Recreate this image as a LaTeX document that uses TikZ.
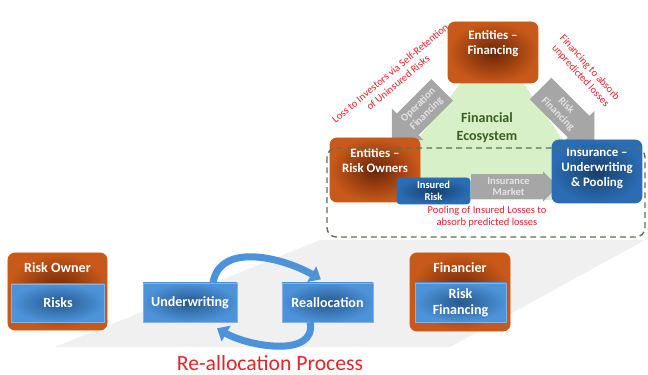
\documentclass[tikz,border=0pt]{standalone}
\usepackage{fontspec}
\setmainfont{Carlito}
\usetikzlibrary{positioning,shapes.arrows,arrows.meta}

\definecolor{rustorange}{HTML}{C9591A}
\definecolor{rustdark}{HTML}{6A2506}
\definecolor{boxblue}{HTML}{4C93DA}
\definecolor{deepblue}{HTML}{2A6DB5}
\definecolor{bluedark}{HTML}{173F6A}
\definecolor{arrowgray}{HTML}{A6A6A6}
\definecolor{arrowtext}{HTML}{E4E4E4}
\definecolor{ecogreen}{HTML}{D8F0C8}
\definecolor{ecotext}{HTML}{3A5F22}
\definecolor{dashgreen}{HTML}{5E7050}
\definecolor{notered}{HTML}{E0252B}
\definecolor{floorgray}{HTML}{F0F0F0}

\tikzset{
  orgbox/.style={rounded corners=6pt, draw=rustorange, line width=0.8pt,
    inner color=rustdark, outer color=rustorange, inner sep=0pt},
  bigblue/.style={rounded corners=6pt, draw=deepblue, line width=0.8pt,
    inner color=bluedark, outer color=deepblue, inner sep=0pt},
  flatblue/.style={draw=boxblue!70!white, line width=0.5pt,
    inner color=bluedark!70!boxblue, outer color=boxblue, inner sep=0pt,
    text=white, align=center, font=\fontsize{12}{13.6}\selectfont\bfseries},
  boxtxt/.style={text=white, align=center, font=\fontsize{11}{12.5}\selectfont\bfseries},
  ttl/.style={text=white, font=\fontsize{12}{13}\selectfont\bfseries},
  flowarrow/.style={single arrow, fill=arrowgray, text=arrowtext, align=center,
    font=\fontsize{9}{10}\selectfont\bfseries, inner xsep=1.5pt, inner ysep=3.7pt,
    single arrow head extend=0.2cm, minimum width=1.33cm},
  redlbl/.style={text=notered, align=center, font=\fontsize{9}{10.5}\selectfont},
  dashframe/.style={draw=dashgreen, line width=1.2pt, dash pattern=on 5pt off 3.5pt,
    rounded corners=8pt},
  cycarrow/.style={draw=boxblue, line width=6pt,
    -{Triangle[width=15pt,length=9pt]}}
}

\begin{document}
\begin{tikzpicture}[x=0.03cm, y=-0.03cm]
  \useasboundingbox (0,0) rectangle (648,375);

  % floor and ecosystem
  \fill[floorgray] (55,347) -- (320,240) -- (645,240) -- (450,347) -- cycle;
  \fill[ecogreen] (493,40) -- (372,200) -- (605,200) -- cycle;

  % money flows
  \node[flowarrow, rotate=45, shape border rotate=180, minimum height=2.13cm] (opf) at (422.5,109.5) {Operation\\Financing};
  \node[flowarrow, rotate=-45, minimum height=2.28cm] (rkf) at (562,110) {Risk\\Financing};
  \node[flowarrow, minimum height=2.61cm, minimum width=0.9cm, inner ysep=1.5pt,
    single arrow head extend=0.075cm] (mkt) at (508.5,186.5) {Insurance\\Market};

  % entities
  \node[orgbox, minimum width=2.7cm, minimum height=1.83cm] (fin) at (493,52.5) {};
  \node[boxtxt] (fintxt) at ([yshift=0.27cm]fin.center) {Entities --\\Financing};
  \node[orgbox, minimum width=2.7cm, minimum height=1.92cm] (own) at (375,170) {};
  \node[boxtxt] (owntxt) at ([yshift=0.28cm]own.center) {Entities --\\Risk Owners};
  \node[bigblue, minimum width=2.7cm, minimum height=1.89cm] (ins) at (597,171.5) {};
  \node[boxtxt] (instxt) at ([yshift=0.09cm]ins.center) {Insurance --\\Underwriting\\\& Pooling};
  \node[bigblue, rounded corners=3pt, minimum width=2.19cm, minimum height=0.78cm, text=white, align=center,
    font=\fontsize{9}{10}\selectfont\bfseries] (irisk) at (433.5,191) {Insured\\Risk};

  \node[text=ecotext, align=center, font=\fontsize{12}{15.5}\selectfont\bfseries] (eco) at (487,128) {Financial\\Ecosystem};

  % notes
  \node[redlbl, rotate=40] (loss) at (394,78) {Loss to Investors via Self-Retention\\of Uninsured Risks};
  \node[redlbl, rotate=-48] (absorb) at (585,72) {Financing to absorb\\unpredicted losses};
  \node[redlbl] (pool) at (487,217) {Pooling of Insured Losses to\\absorb predicted losses};

  \draw[dashframe] (327,148) rectangle (645,237);

  % re-allocation
  \node[orgbox, minimum width=2.97cm, minimum height=2.31cm] (rown) at (57.5,291.5) {};
  \node[ttl] (rowntxt) at ([yshift=-0.45cm]rown.north) {Risk Owner};
  \node[flatblue, minimum width=2.79cm, minimum height=1.14cm] (risks) at (58,303) {Risks};

  \node[flatblue, minimum width=2.82cm, minimum height=1.17cm] (uw) at (190,302.5) {Underwriting};
  \node[flatblue, minimum width=2.73cm, minimum height=1.17cm] (ra) at (327.5,302.5) {Reallocation};
  \draw[cycarrow] ([xshift=0.69cm]uw.north) to[out=80,in=150] ([xshift=-0.2cm,yshift=0.1cm]ra.north);
  \draw[cycarrow] ([xshift=-0.52cm]ra.south) to[out=-80,in=-30] ([xshift=0.81cm,yshift=-0.18cm]uw.south);

  \node[orgbox, minimum width=3.0cm, minimum height=2.34cm] (fncr) at (460,292) {};
  \node[ttl] (fncrtxt) at ([yshift=-0.45cm]fncr.north) {Financier};
  \node[flatblue, minimum width=2.73cm, minimum height=1.17cm] (rfin) at (460.5,302.5) {Risk\\Financing};

  \node[text=notered, font=\fontsize{18.5}{21}\selectfont, anchor=base] (proc) at (270,370) {Re-allocation Process};
\end{tikzpicture}
\end{document}
